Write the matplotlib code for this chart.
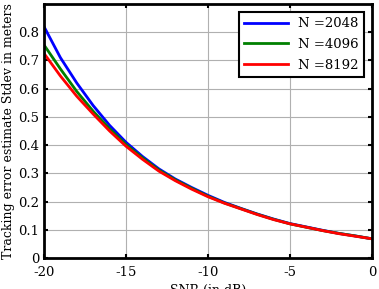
import matplotlib.pyplot as plt

snr = [-20, -19, -18, -17, -16, -15, -14, -13, -12, -11, -10,
       -9, -8, -7, -6, -5, -4, -3, -2, -1, 0]
n2048 = [0.82, 0.71, 0.62, 0.54, 0.47, 0.41, 0.36, 0.316, 0.28, 0.25, 0.222,
         0.197, 0.176, 0.156, 0.138, 0.122, 0.11, 0.098, 0.087, 0.078, 0.068]
n4096 = [0.755, 0.67, 0.59, 0.52, 0.458, 0.402, 0.355, 0.312, 0.277, 0.247, 0.219,
         0.195, 0.175, 0.155, 0.137, 0.121, 0.109, 0.097, 0.087, 0.078, 0.068]
n8192 = [0.725, 0.645, 0.573, 0.51, 0.45, 0.396, 0.35, 0.308, 0.274, 0.244, 0.217,
         0.194, 0.174, 0.154, 0.136, 0.121, 0.109, 0.097, 0.086, 0.077, 0.068]

plt.rcParams['font.family'] = 'DejaVu Serif'
plt.rcParams['axes.unicode_minus'] = False
fig = plt.figure(figsize=(3.79, 2.89), dpi=100)
ax = fig.add_axes([44 / 379, 31 / 289, 328 / 379, 254 / 289])

ax.plot(snr, n2048, color='#0000ff', linewidth=2, label='N =2048')
ax.plot(snr, n4096, color='#008000', linewidth=2, label='N =4096')
ax.plot(snr, n8192, color='#ff0000', linewidth=2, label='N =8192')

ax.set_xlim(-20, 0)
ax.set_ylim(0, 0.9)
ax.set_xticks([-20, -15, -10, -5, 0])
ax.set_yticks([0, 0.1, 0.2, 0.3, 0.4, 0.5, 0.6, 0.7, 0.8])
ax.set_yticklabels(['0', '0.1', '0.2', '0.3', '0.4', '0.5', '0.6', '0.7', '0.8'])
ax.grid(True, color='#b0b0b0', linewidth=0.8)
ax.tick_params(direction='in', top=True, right=True, length=3, width=1.5, labelsize=9.5)
ax.tick_params(axis='x', pad=6)
for s in ax.spines.values():
    s.set_linewidth(2)
ax.set_xlabel('SNR (in dB)', fontsize=9, labelpad=3)
ax.set_ylabel('Tracking error estimate Stdev in meters', fontsize=9, labelpad=2)

leg = ax.legend(loc='upper right', fontsize=9.5, fancybox=False, framealpha=1,
                edgecolor='black', handlelength=3.3, labelspacing=0.6,
                borderaxespad=0.6)
leg.get_frame().set_linewidth(1.5)

plt.savefig('out.png', dpi=100)
